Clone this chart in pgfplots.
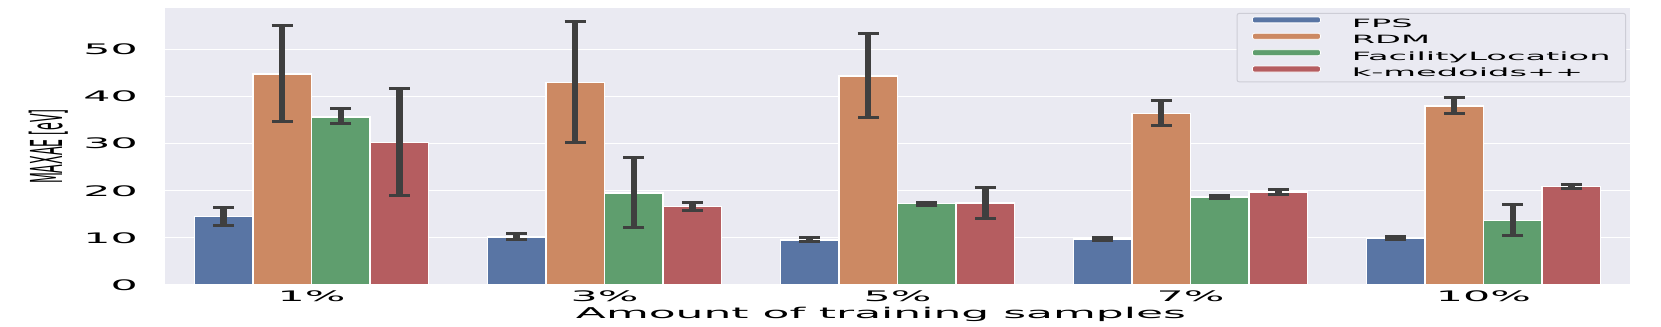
\documentclass[border=0pt]{standalone}
\usepackage{fontspec}
\setmainfont[FakeStretch=2.95]{DejaVu Sans}
\newfontfamily\ylabfont[FakeStretch=0.286]{DejaVu Sans}
\usepackage{pgfplots}
\pgfplotsset{compat=1.18}
\definecolor{bgc}{HTML}{EAEAF2}
\definecolor{cFPS}{HTML}{5975A4}
\definecolor{cRDM}{HTML}{CC8963}
\definecolor{cFL}{HTML}{5F9E6E}
\definecolor{cKM}{HTML}{B55D60}
\definecolor{errc}{HTML}{3F3F3F}
\definecolor{legframe}{HTML}{CDCDD6}
\begin{document}
\begin{tikzpicture}
\useasboundingbox (-165bp,-42bp) rectangle (1496bp,285bp);
\begin{axis}[
  at={(0,0)}, anchor=south west,
  scale only axis, width=1465bp, height=277bp,
  xmin=-0.5, xmax=4.5, ymin=0, ymax=58.8,
  axis background/.style={fill=bgc},
  axis line style={draw=none},
  major tick length=0pt,
  xtick={0,1,2,3,4},
  xticklabels={1\%,3\%,5\%,7\%,10\%},
  ytick={0,10,20,30,40,50},
  ymajorgrids, grid style={white, line width=1.1bp},
  /pgf/number format/assume math mode=true,
  xticklabel style={font=\fontsize{14.5bp}{17bp}\selectfont, anchor=base, yshift=-16.7bp, inner sep=0pt},
  yticklabel style={font=\fontsize{14.5bp}{17bp}\selectfont, anchor=east, xshift=-27bp, inner sep=0pt},
  xlabel={Amount of training samples},
  xlabel style={at={(axis description cs:0.4887,0)}, anchor=base, yshift=-33bp, inner sep=0pt, font=\fontsize{14.9bp}{18bp}\selectfont},
  ylabel={\ylabfont MAXAE [eV]},
  ylabel style={at={(axis description cs:-0.0703,0.5)}, anchor=base, inner sep=0pt, font=\fontsize{44bp}{50bp}\selectfont},
  ybar, bar width=0.2,
  every axis plot/.append style={draw=white, line width=1.5bp},
  error bars/y dir=both, error bars/y explicit,
  error bars/error bar style={errc, line width=6.5bp},
  error bars/error mark options={errc, line width=3bp, mark size=10.5bp, rotate=90},
  legend image code/.code={\fill[#1, draw=white, line width=0.8bp] (0bp,1.2bp) rectangle (68bp,7.2bp);},
  legend cell align=left,
  legend style={at={(0.9973,0.982)}, anchor=north east, fill=bgc, draw=legframe, line width=1bp, rounded corners=2bp,
    font=\fontsize{11.4bp}{13bp}\selectfont, inner xsep=15bp, inner ysep=3bp, row sep=3.3bp, column sep=31bp,
    nodes={inner sep=0pt, text height=9bp, text depth=2bp}, cells={anchor=west}},
]
\addplot[fill=cFPS, bar shift=-0.3] coordinates {
  (0,14.5) += (0,2.0) -= (0,1.8)
  (1,10.2) += (0,0.7) -= (0,0.5)
  (2,9.6)  += (0,0.4) -= (0,0.3)
  (3,9.8)  += (0,0.3) -= (0,0.3)
  (4,9.9)  += (0,0.4) -= (0,0.3)
};
\addplot[fill=cRDM, bar shift=-0.1] coordinates {
  (0,44.8) += (0,10.3) -= (0,10.1)
  (1,43.0) += (0,12.9) -= (0,12.8)
  (2,44.4) += (0,9.0)  -= (0,8.8)
  (3,36.4) += (0,2.8)  -= (0,2.5)
  (4,38.0) += (0,1.9)  -= (0,1.6)
};
\addplot[fill=cFL, bar shift=0.1] coordinates {
  (0,35.7) += (0,1.7) -= (0,1.4)
  (1,19.5) += (0,7.6) -= (0,7.3)
  (2,17.3) += (0,0.3) -= (0,0.4)
  (3,18.7) += (0,0.4) -= (0,0.4)
  (4,13.7) += (0,3.3) -= (0,3.1)
};
\addplot[fill=cKM, bar shift=0.3] coordinates {
  (0,30.2) += (0,11.6) -= (0,11.2)
  (1,16.7) += (0,0.9)  -= (0,0.8)
  (2,17.4) += (0,3.3)  -= (0,3.2)
  (3,19.7) += (0,0.5)  -= (0,0.5)
  (4,20.9) += (0,0.5)  -= (0,0.4)
};
\legend{FPS,RDM,FacilityLocation,k-medoids++}
\end{axis}
\end{tikzpicture}
\end{document}
